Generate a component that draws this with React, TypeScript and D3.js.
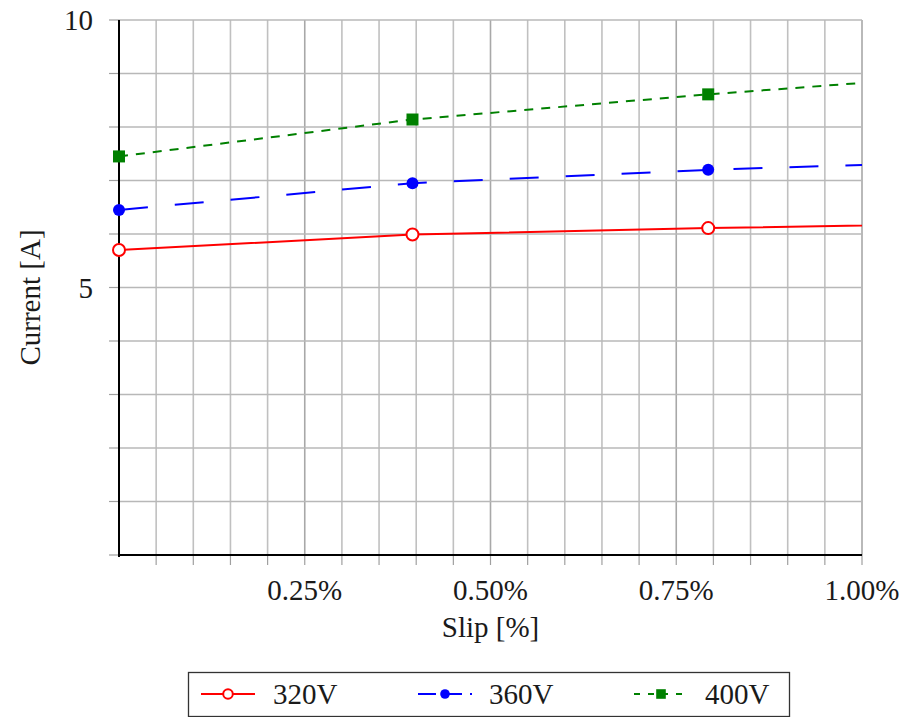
import React from "react";
import * as d3 from "d3";

// slip values (%) - last point sits past the axis end and is clipped
const slip = [0, 0.395, 0.793, 1.2];
const current320 = [5.7, 5.99, 6.11, 6.21];
const current360 = [6.45, 6.95, 7.2, 7.38];
const current400 = [7.45, 8.14, 8.61, 9.03];
const xTickLabels = [0.25, 0.5, 0.75, 1.0];
const yTickLabels = [5, 10];

const W = 907;
const H = 717;
const margin = { top: 20, right: 45, bottom: 162, left: 119 };
const FONT = "'Liberation Serif', 'Times New Roman', serif";
const FS = 29;

const series = [
  { name: "320V", values: current320, color: "#ff0000", dash: "none", marker: "circleOpen" },
  { name: "360V", values: current360, color: "#0000ff", dash: "29 27", marker: "circle" },
  { name: "400V", values: current400, color: "#008000", dash: "9 8", marker: "square" },
];

function Marker({ type, x, y, color, size = 1 }: { type: string; x: number; y: number; color: string; size?: number }) {
  if (type === "circleOpen")
    return <circle cx={x} cy={y} r={6 * size} fill="white" stroke={color} strokeWidth={2} />;
  if (type === "circle") return <circle cx={x} cy={y} r={6 * size} fill={color} />;
  const s = 12 * size;
  return <rect x={x - s / 2} y={y - s / 2} width={s} height={s} fill={color} />;
}

export default function App() {
  const iw = W - margin.left - margin.right;
  const ih = H - margin.top - margin.bottom;
  const x = d3.scaleLinear().domain([0, 1]).range([margin.left, margin.left + iw]);
  const y = d3.scaleLinear().domain([0, 10]).range([margin.top + ih, margin.top]);

  const xGrid = d3.range(1, 21).map((i) => i * 0.05);
  const yGrid = d3.range(0, 11);

  const line = d3
    .line<number>()
    .x((_, i) => x(slip[i]))
    .y((d) => y(d));

  const legend = [
    { x0: 201, tx: 273 },
    { x0: 418, tx: 489 },
    { x0: 634, tx: 705 },
  ];

  return (
    <svg width={W} height={H} style={{ position: "absolute", left: 0, top: 0, background: "white" }}>
      <defs>
        <clipPath id="plot">
          <rect x={margin.left} y={margin.top - 10} width={iw} height={ih + 20} />
        </clipPath>
      </defs>
      {/* grid */}
      {xGrid.map((v, i) => (
        <g key={"xg" + i}>
          <line
            x1={x(v)}
            x2={x(v)}
            y1={y(0)}
            y2={y(10)}
            stroke={Math.abs((v * 100) % 25) < 0.01 ? "#a8a8a8" : "#c0c0c0"}
            strokeWidth={1.6}
          />
          <line x1={x(v)} x2={x(v)} y1={y(0)} y2={y(0) + 10} stroke="#a0a0a0" strokeWidth={1.2} />
        </g>
      ))}
      {yGrid.map((v) => (
        <g key={"yg" + v}>
          <line x1={x(0)} x2={x(1)} y1={y(v)} y2={y(v)} stroke="#b8b8b8" strokeWidth={1.6} />
          <line x1={x(0) - 10} x2={x(0)} y1={y(v)} y2={y(v)} stroke="#a0a0a0" strokeWidth={1.2} />
        </g>
      ))}
      {/* axes */}
      <line x1={x(0)} x2={x(0)} y1={y(0) + 2} y2={y(10)} stroke="black" strokeWidth={2} />
      <line x1={x(0) - 1} x2={x(1)} y1={y(0)} y2={y(0)} stroke="black" strokeWidth={2} />

      {/* series */}
      <g clipPath="url(#plot)">
        {series.map((s) => (
          <path key={s.name} d={line(s.values) || ""} fill="none" stroke={s.color} strokeWidth={2} strokeDasharray={s.dash} />
        ))}
      </g>
      {series.map((s) =>
        s.values
          .filter((_, i) => slip[i] <= 1)
          .map((v, i) => <Marker key={s.name + i} type={s.marker} x={x(slip[i])} y={y(v)} color={s.color} />)
      )}

      {/* tick labels */}
      {xTickLabels.map((v) => (
        <text key={"xt" + v} x={x(v)} y={y(0) + 45} textAnchor="middle" fontFamily={FONT} fontSize={FS} fill="#1a1a1a">
          {v.toFixed(2) + "%"}
        </text>
      ))}
      {yTickLabels.map((v) => (
        <text key={"yt" + v} x={x(0) - 26} y={y(v) + 10} textAnchor="end" fontFamily={FONT} fontSize={FS} fill="#1a1a1a">
          {v}
        </text>
      ))}
      <text x={(x(0) + x(1)) / 2} y={y(0) + 82} textAnchor="middle" fontFamily={FONT} fontSize={FS} fill="#1a1a1a">
        Slip [%]
      </text>
      <text
        transform={`translate(${40},${(y(0) + y(10)) / 2 + 10}) rotate(-90)`}
        textAnchor="middle"
        fontFamily={FONT}
        fontSize={FS}
        fill="#1a1a1a"
      >
        Current [A]
      </text>

      {/* legend */}
      <rect x={188.5} y={672.5} width={601} height={44} fill="white" stroke="#333" strokeWidth={1.3} />
      {series.map((s, i) => (
        <g key={"lg" + s.name}>
          <line
            x1={legend[i].x0}
            x2={legend[i].x0 + 54}
            y1={694}
            y2={694}
            stroke={s.color}
            strokeWidth={2}
            strokeDasharray={i === 0 ? "none" : i === 1 ? "18 8" : "6 8"}
          />
          <Marker type={s.marker} x={legend[i].x0 + 27} y={694} color={s.color} size={0.8} />
          <text x={legend[i].tx} y={704} fontFamily={FONT} fontSize={FS} fill="#1a1a1a">
            {s.name}
          </text>
        </g>
      ))}
    </svg>
  );
}
